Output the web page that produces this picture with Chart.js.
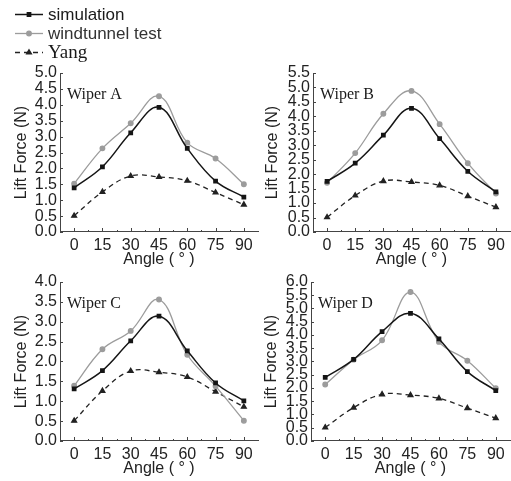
<!DOCTYPE html>
<html>
<head>
<meta charset="utf-8">
<script src="https://cdn.jsdelivr.net/npm/chart.js@4.4.1/dist/chart.umd.min.js"></script>
<style>
  html, body { margin: 0; padding: 0; background: #fff; }
  body { width: 511px; height: 481px; position: relative; overflow: hidden; }
  .panel { position: absolute; }
</style>
</head>
<body>
<div class="panel" id="pA"><canvas id="cA"></canvas></div>
<div class="panel" id="pB"><canvas id="cB"></canvas></div>
<div class="panel" id="pC"><canvas id="cC"></canvas></div>
<div class="panel" id="pD"><canvas id="cD"></canvas></div>
<script>
// angles (deg) and lift force (N)
const angles = [0, 15, 30, 45, 60, 75, 90];
const seriesNames = ['simulation', 'windtunnel test', 'Yang'];

const simA  = [1.39, 2.05, 3.12, 3.92, 2.63, 1.60, 1.10];
const windA = [1.52, 2.63, 3.42, 4.27, 2.81, 2.31, 1.50];
const simB  = [1.75, 2.38, 3.35, 4.28, 3.23, 2.10, 1.39];
const windB = [1.70, 2.73, 4.09, 4.88, 3.73, 2.38, 1.33];
const simC  = [1.31, 1.77, 2.52, 3.14, 2.27, 1.46, 1.01];
const windC = [1.39, 2.31, 2.77, 3.56, 2.17, 1.38, 0.51];
const simD  = [2.40, 3.08, 4.13, 4.82, 3.85, 2.62, 1.90];
const windD = [2.13, 3.07, 3.80, 5.62, 3.74, 3.03, 1.99];
const yang  = [0.51, 1.26, 1.76, 1.73, 1.61, 1.24, 0.86];

const xTicks = [0, 15, 30, 45, 60, 75, 90];
const yMaxA = 5.0, yMaxB = 5.5, yMaxC = 4.0, yMaxD = 6.0;
const yStep = 0.5;

Chart.defaults.font.family = "'Liberation Sans', Arial, sans-serif";
Chart.defaults.font.size = 16;
Chart.defaults.color = '#222';

const H = 9.6; // half line height of 16px font

// tick marks point inward, like the original plots
const innerTicks = {
  id: 'innerTicks',
  afterDraw(chart) {
    const { ctx, chartArea: a, scales: { x, y } } = chart;
    ctx.save();
    ctx.strokeStyle = '#444';
    ctx.lineWidth = 1;
    ctx.beginPath();
    xTicks.forEach((v, i) => {
      const px = Math.round(x.getPixelForValue(v)) + 0.5;
      ctx.moveTo(px, a.bottom); ctx.lineTo(px, a.bottom - 4);
      if (i < xTicks.length - 1) {
        const mx = Math.round(x.getPixelForValue(v + 7.5)) + 0.5;
        ctx.moveTo(mx, a.bottom); ctx.lineTo(mx, a.bottom - 2);
      }
    });
    y.ticks.forEach(t => {
      const py = Math.round(y.getPixelForValue(t.value)) + 0.5;
      ctx.moveTo(a.left, py); ctx.lineTo(a.left + 3, py);
    });
    ctx.stroke();
    ctx.restore();
  }
};

const panelLabel = {
  id: 'panelLabel',
  afterDraw(chart, args, opts) {
    const { ctx, chartArea: a } = chart;
    ctx.save();
    ctx.font = "16px 'Liberation Serif', 'Times New Roman', serif";
    ctx.fillStyle = '#1a1a1a';
    ctx.textBaseline = 'middle';
    ctx.fillText(opts.text, a.left + 7, a.top + 22);
    ctx.restore();
  }
};

// the shared legend sits above Wiper A
const topLegend = {
  id: 'topLegend',
  afterDraw(chart, args, opts) {
    if (!opts.show) return;
    const ctx = chart.ctx;
    const rows = [14, 33, 52];
    const fonts = [
      "17px 'Liberation Sans', Arial, sans-serif",
      "17px 'Liberation Sans', Arial, sans-serif",
      "19px 'Liberation Serif', 'Times New Roman', serif"
    ];
    chart.data.datasets.forEach((ds, i) => {
      const yy = rows[i] + 0.5;
      ctx.save();
      ctx.strokeStyle = ds.borderColor;
      ctx.lineWidth = ds.borderWidth;
      ctx.setLineDash(ds.borderDash || []);
      ctx.beginPath();
      ctx.moveTo(15, yy); ctx.lineTo(43, yy);
      ctx.stroke();
      ctx.setLineDash([]);
      ctx.fillStyle = ds.pointBackgroundColor;
      Chart.helpers.drawPoint(ctx, { pointStyle: ds.pointStyle, radius: ds.pointRadius, rotation: 0, borderWidth: 1 }, 29, yy);
      ctx.font = fonts[i];
      ctx.fillStyle = i === 1 ? '#333' : '#1a1a1a';
      ctx.textBaseline = 'middle';
      ctx.fillText(seriesNames[i], 48, rows[i] + 1);
      ctx.restore();
    });
  }
};

function toXY(vals) {
  return angles.map((a, i) => ({ x: a, y: vals[i] }));
}

function makePanel(id, label, sim, wind, yMax, box, plot, yTitleX, xTitleY, showLegend) {
  const div = document.getElementById('p' + id);
  Object.assign(div.style, { left: box.l + 'px', top: box.t + 'px', width: box.w + 'px', height: box.h + 'px' });

  const padLeft = yTitleX - box.l - H;
  const yW = plot.l - box.l - padLeft;
  const padTop = plot.t - box.t;
  const padRight = box.l + box.w - plot.r;
  const padBottom = box.t + box.h - xTitleY - H;
  const xH = box.t + box.h - padBottom - plot.b;

  return new Chart(document.getElementById('c' + id), {
    type: 'line',
    data: {
      datasets: [
        { label: seriesNames[0], data: toXY(sim), borderColor: '#151515', backgroundColor: '#151515',
          pointBackgroundColor: '#151515', pointBorderColor: '#151515', borderWidth: 1.5,
          pointStyle: 'rect', pointRadius: 2.3, tension: 0.4 },
        { label: seriesNames[1], data: toXY(wind), borderColor: '#9c9c9c', backgroundColor: '#9c9c9c',
          pointBackgroundColor: '#9c9c9c', pointBorderColor: '#9c9c9c', borderWidth: 1.3,
          pointStyle: 'circle', pointRadius: 2.3, tension: 0.4 },
        { label: seriesNames[2], data: toXY(yang), borderColor: '#222', backgroundColor: '#222',
          pointBackgroundColor: '#222', pointBorderColor: '#222', borderWidth: 1.3, borderDash: [5, 4],
          pointStyle: 'triangle', pointRadius: 2.8, tension: 0.4 }
      ]
    },
    options: {
      responsive: true, maintainAspectRatio: false, animation: false,
      layout: { autoPadding: false, padding: { left: padLeft, top: padTop, right: padRight, bottom: padBottom } },
      plugins: {
        legend: { display: false }, tooltip: { enabled: false },
        panelLabel: { text: label },
        topLegend: { show: showLegend }
      },
      scales: {
        x: {
          type: 'linear', min: -7.5, max: 97.5,
          afterBuildTicks: s => { s.ticks = xTicks.map(v => ({ value: v })); },
          afterFit: s => { s.height = xH; },
          grid: { display: false, drawTicks: false },
          border: { display: true, color: '#444', width: 1 },
          ticks: { padding: 4, maxRotation: 0, autoSkip: false, font: { size: 16 } },
          title: { display: true, text: 'Angle ( ° )', padding: 0, font: { size: 16 }, color: '#222' }
        },
        y: {
          min: 0, max: yMax,
          afterFit: s => { s.width = yW; },
          grid: { display: false, drawTicks: false },
          border: { display: true, color: '#444', width: 1 },
          ticks: { stepSize: yStep, padding: 3, autoSkip: false, font: { size: 16 }, callback: v => v.toFixed(1) },
          title: { display: true, text: 'Lift Force (N)', padding: 0, font: { size: 16 }, color: '#222' }
        }
      }
    },
    plugins: [innerTicks, panelLabel, topLegend]
  });
}

makePanel('A', 'Wiper A', simA, windA, yMaxA,
  { l: 0, t: 0, w: 262, h: 270 }, { l: 60, r: 258, t: 73, b: 232 }, 22, 260, true);
makePanel('B', 'Wiper B', simB, windB, yMaxB,
  { l: 256, t: 0, w: 255, h: 270 }, { l: 313, r: 510, t: 73, b: 232 }, 273, 260, false);
makePanel('C', 'Wiper C', simC, windC, yMaxC,
  { l: 0, t: 262, w: 262, h: 219 }, { l: 60, r: 258, t: 282, b: 441 }, 22, 469, false);
makePanel('D', 'Wiper D', simD, windD, yMaxD,
  { l: 256, t: 262, w: 255, h: 219 }, { l: 311, r: 510, t: 282, b: 441 }, 272, 469, false);
</script>
</body>
</html>
